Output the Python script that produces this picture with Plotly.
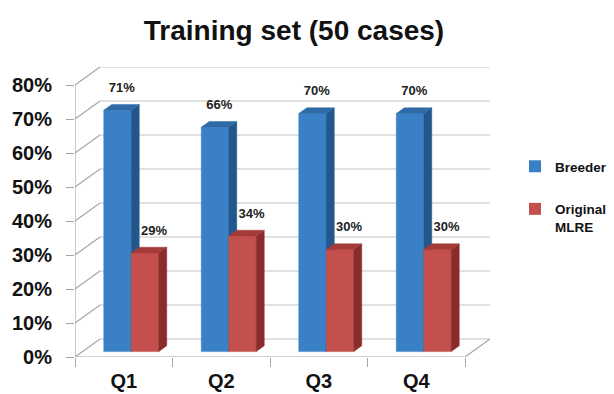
import plotly.graph_objects as go

# ---- data ----
categories = ["Q1", "Q2", "Q3", "Q4"]
breeder = [71, 66, 70, 70]
original_mlre = [29, 34, 30, 30]
y_ticks = [0, 10, 20, 30, 40, 50, 60, 70, 80]
y_tick_labels = [f"{v}%" for v in y_ticks]
series_names = ["Breeder", "Original<br>MLRE"]

# ---- 3D geometry (in data units) ----
DX, DY = 0.2564, 5.294      # depth vector of the box (x units, % units)
F1, F2 = 0.30, 0.62          # bar front / back depth fractions
W = 0.282                    # width of one bar
YMAX = 80

FONT = "Liberation Sans, Arial, sans-serif"
GRID = "#C4C4C4"
AXIS = "#A6A6A6"

colors = {
    "Breeder": ("#3A80C6", "#23578C", "#2E6AA6"),
    "Original<br>MLRE": ("#C3504D", "#8A2C2A", "#A53B38"),
}

fig = go.Figure()

# back wall gridlines and left wall lines
gx, gy, lx, ly = [], [], [], []
for v in y_ticks:
    gx += [-0.5 + DX, len(categories) - 0.5 + DX, None]
    gy += [v + DY, v + DY, None]
    lx += [-0.5, -0.5 + DX, None]
    ly += [v, v + DY, None]
fig.add_trace(go.Scatter(x=gx, y=gy, mode="lines", line=dict(color=GRID, width=1.2),
                         showlegend=False, hoverinfo="skip"))
fig.add_trace(go.Scatter(x=lx, y=ly, mode="lines", line=dict(color=AXIS, width=1.2),
                         showlegend=False, hoverinfo="skip"))
# floor front + right edge, front vertical axis
n = len(categories)
fig.add_trace(go.Scatter(x=[-0.5, n - 0.5, n - 0.5 + DX], y=[0, 0, DY], mode="lines",
                         line=dict(color=AXIS, width=1.2), showlegend=False, hoverinfo="skip"))
fig.add_trace(go.Scatter(x=[-0.5, -0.5], y=[0, YMAX], mode="lines",
                         line=dict(color=AXIS, width=1.2), showlegend=False, hoverinfo="skip"))


def poly(pts):
    xs = [p[0] for p in pts] + [pts[0][0], None]
    ys = [p[1] for p in pts] + [pts[0][1], None]
    return xs, ys


for s_idx, (name, vals) in enumerate(zip(series_names, [breeder, original_mlre])):
    front_c, side_c, top_c = colors[name]
    fx, fy, sx, sy, tx, ty = [], [], [], [], [], []
    for i, v in enumerate(vals):
        x0 = i - W if s_idx == 0 else i
        x1 = x0 + W
        a, b = F1, F2
        xs, ys = poly([(x0 + DX * a, DY * a), (x1 + DX * a, DY * a),
                       (x1 + DX * a, v + DY * a), (x0 + DX * a, v + DY * a)])
        fx += xs; fy += ys
        xs, ys = poly([(x1 + DX * a, DY * a), (x1 + DX * b, DY * b),
                       (x1 + DX * b, v + DY * b), (x1 + DX * a, v + DY * a)])
        sx += xs; sy += ys
        xs, ys = poly([(x0 + DX * a, v + DY * a), (x1 + DX * a, v + DY * a),
                       (x1 + DX * b, v + DY * b), (x0 + DX * b, v + DY * b)])
        tx += xs; ty += ys
    for xs, ys, c in [(fx, fy, front_c), (sx, sy, side_c), (tx, ty, top_c)]:
        fig.add_trace(go.Scatter(x=xs, y=ys, mode="lines", fill="toself", fillcolor=c,
                                 line=dict(color=c, width=0.5), showlegend=False,
                                 hoverinfo="skip"))
    # data labels
    off = -0.02 if s_idx == 0 else 0.31
    fig.add_trace(go.Scatter(
        x=[i + off for i in range(n)], y=[v + DY * F2 + 4.6 for v in vals],
        mode="text", text=[f"{v}%" for v in vals], textposition="middle center",
        textfont=dict(family=FONT, size=13, color="#222222", weight="bold"),
        showlegend=False, hoverinfo="skip", cliponaxis=False))
    # legend entry
    fig.add_trace(go.Scatter(x=[None], y=[None], mode="markers", name=name,
                             legendgroup=name,
                             marker=dict(symbol="square", size=12, color=front_c)))

fig.update_layout(
    width=614, height=394,
    margin=dict(l=75, r=124, t=67, b=37),
    paper_bgcolor="white", plot_bgcolor="white",
    title=dict(text="<b>Training set (50 cases)</b>", x=294 / 614, xanchor="center",
               xref="container", y=1 - 30 / 394, yanchor="middle", yref="container",
               font=dict(family=FONT, size=28, color="#111111")),
    xaxis=dict(range=[-0.5, n - 0.5 + DX], tickvals=list(range(n)), ticktext=categories,
               ticks="", showgrid=False, zeroline=False, showline=False, automargin=False,
               tickfont=dict(family=FONT, size=20, color="#111111", weight="bold"),
               ticklabelstandoff=10,
               minor=dict(tickvals=[i - 0.5 for i in range(n + 1)], ticks="outside",
                          ticklen=9, tickcolor=AXIS, tickwidth=1.2, showgrid=False)),
    yaxis=dict(range=[0, YMAX + DY], tickvals=y_ticks, ticktext=y_tick_labels,
               ticks="outside", ticklen=8, tickcolor=AXIS, tickwidth=1.2, automargin=False,
               showgrid=False, zeroline=False, showline=False,
               tickfont=dict(family=FONT, size=20, color="#111111", weight="bold"),
               ticklabelstandoff=10),
    legend=dict(xref="container", yref="container", x=515 / 614, y=1 - 151 / 394,
                xanchor="left", yanchor="top", valign="top", tracegroupgap=22,
                font=dict(family=FONT, size=13.5, color="#111111", weight="bold"),
                bgcolor="rgba(0,0,0,0)"),
    showlegend=True,
)

fig.write_html("out.html")
